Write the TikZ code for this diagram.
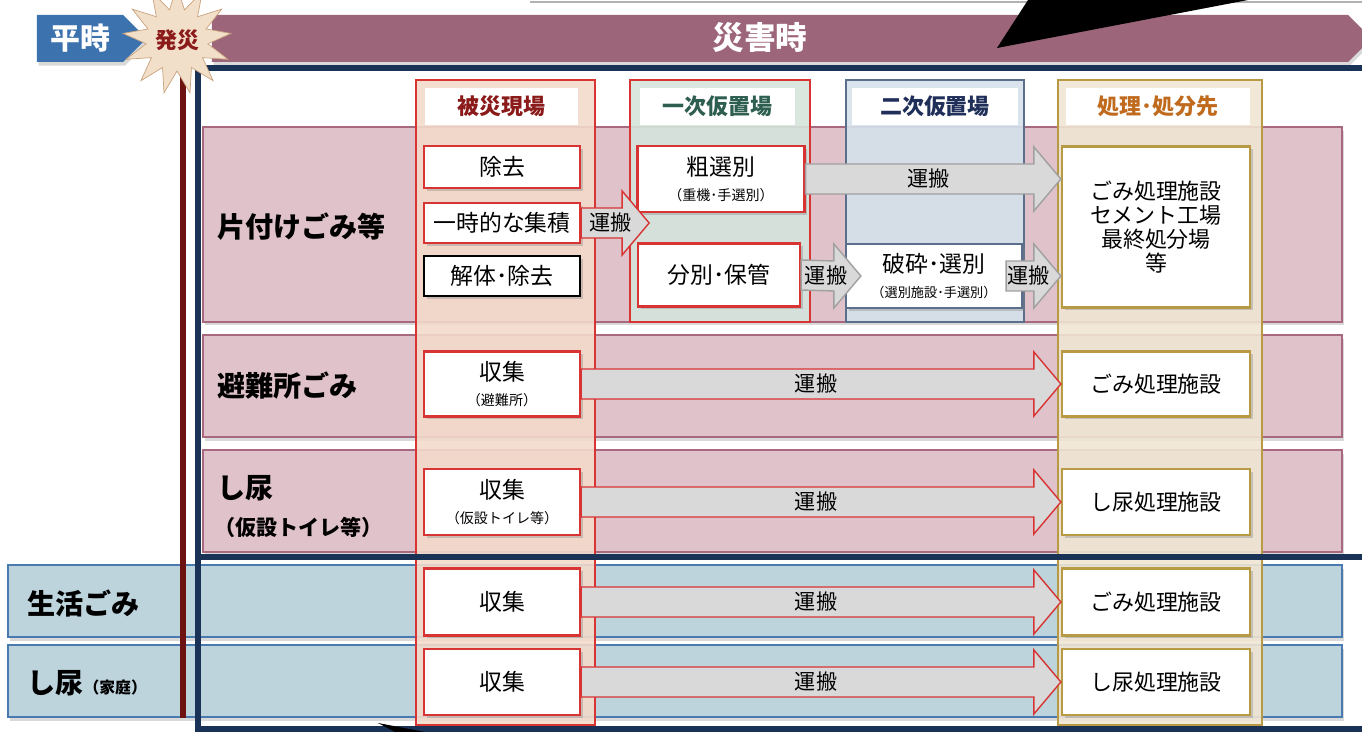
\documentclass[tikz,border=0pt]{standalone}
\usepackage{fontspec}
\setmainfont{Noto Sans CJK JP}
\usetikzlibrary{shapes.geometric,shapes.symbols,shadows,calc}
\definecolor{rowpink}{HTML}{DFC2CA}
\definecolor{rowpinkline}{HTML}{A8687F}
\definecolor{rowblue}{HTML}{BDD4DC}
\definecolor{rowblueline}{HTML}{4A7BB0}
\definecolor{colpeach}{HTML}{F2DACB}
\definecolor{colgreen}{HTML}{D6E4DC}
\definecolor{colblue}{HTML}{D5E1EA}
\definecolor{colbeige}{HTML}{EFE5D3}
\definecolor{boxred}{HTML}{D83434}
\definecolor{nijiline}{HTML}{5B6E8C}
\definecolor{goldline}{HTML}{B89A45}
\definecolor{navyframe}{HTML}{1B3257}
\definecolor{bannerpink}{HTML}{9C6579}
\definecolor{heijiblue}{HTML}{3C72AD}
\definecolor{saired}{HTML}{6E1111}
\definecolor{burstfill}{HTML}{F2DFC9}
\definecolor{burstline}{HTML}{C9A27E}
\definecolor{arrgray}{HTML}{D9D9D9}
\definecolor{arrline}{HTML}{A0A0A0}
\definecolor{hisaitxt}{HTML}{8B1A1A}
\definecolor{ichijitxt}{HTML}{2E5E50}
\definecolor{nijitxt}{HTML}{1F2F5A}
\definecolor{shobuntxt}{HTML}{C06A1E}
\newcommand{\unpan}[4][grayarr]{%
    \draw[#1] ($(#2)+(0,-15)$) -- ($(#3)+(-27,-15)$) -- ($(#3)+(-27,-32)$) -- (#3)
        -- ($(#3)+(-27,32)$) -- ($(#3)+(-27,15)$) -- ($(#2)+(0,15)$) -- cycle;
    \node[hakobu] (#4) at ($(#2)!0.5!(#3)+(-5,0)$) {運搬};}

\begin{document}
\begin{tikzpicture}[x=0.02cm,y=-0.02cm,
        pinkrow/.style={draw=rowpinkline,fill=rowpink,line width=0.8pt,minimum width=22.78cm,inner sep=0,
            drop shadow={opacity=0.3,shadow xshift=1pt,shadow yshift=-2pt}},
        bluerow/.style={draw=rowblueline,fill=rowblue,line width=0.8pt,minimum width=26.68cm,inner sep=0,
            drop shadow={opacity=0.3,shadow xshift=1pt,shadow yshift=-2pt}},
        retsu/.style={draw=#1,line width=1pt,inner sep=0,fill opacity=0.9},
        midashi/.style={fill=white,minimum height=0.74cm,inner sep=0,font=\fontsize{12.5}{14}\selectfont\bfseries},
        hako/.style={draw=boxred,fill=white,line width=1.3pt,inner sep=0,align=center,
            font=\fontsize{13}{15}\selectfont,
            drop shadow={opacity=0.35,shadow xshift=1.5pt,shadow yshift=-1.5pt}},
        grayarr/.style={fill=arrgray,draw=arrline,line width=0.8pt},
        redarr/.style={fill=arrgray,draw=boxred,line width=0.8pt},
        hakobu/.style={font=\fontsize{12}{14}\selectfont,inner sep=0},
        rowlabel/.style={anchor=west,inner sep=0,font=\fontsize{16}{18}\selectfont\bfseries}]
            \useasboundingbox (0,0) rectangle (1362,732);
            \draw[gray!60,line width=0.6pt] (530,2)--(1362,2);
            \node[signal,signal to=east,fill=bannerpink,minimum width=23.2cm,minimum height=0.94cm,inner sep=0,
                drop shadow={opacity=0.3,shadow xshift=1pt,shadow yshift=-2pt}] (saigaiji) at (780,38.5) {};
            \node[text=white,font=\fontsize{18}{20}\selectfont\bfseries] (saigaiji-t) at (760,38) {災害時};
            \fill (997,48)--(1028,0)--(1248,0)--cycle;
            \node[signal,signal to=east,fill=heijiblue,minimum width=2.2cm,minimum height=0.94cm,inner sep=0,
                text=white,font=\fontsize{17}{19}\selectfont\bfseries,
                drop shadow={opacity=0.3,shadow xshift=1pt,shadow yshift=-2pt}] (heiji) at (80,38.5) {平時};
            \node[pinkrow,minimum height=3.9cm] (r1) at (772.5,224.5) {};
            \node[pinkrow,minimum height=2.04cm] (r2) at (772.5,386) {};
            \node[pinkrow,minimum height=2.04cm] (r3) at (772.5,501) {};
            \node[bluerow,minimum height=1.44cm] (r4) at (675,601) {};
            \node[bluerow,minimum height=1.44cm] (r5) at (675,681) {};
            \node[retsu=boxred,fill=colpeach,minimum width=3.58cm,minimum height=12.9cm] (hisai) at (505.5,402.5) {};
            \node[retsu=boxred,fill=colgreen,minimum width=3.6cm,minimum height=4.84cm] (ichijiba) at (720,201) {};
            \node[retsu=nijiline,fill=colblue,minimum width=3.56cm,minimum height=4.84cm] (nijiba) at (935,201) {};
            \node[retsu=goldline,fill=colbeige,minimum width=4.08cm,minimum height=12.9cm] (shobun) at (1160,402.5) {};
            \node[midashi,minimum width=3.06cm,text=hisaitxt] (m1) at (501.5,106.5) {被災現場};
            \node[midashi,minimum width=3.1cm,text=ichijitxt] (m2) at (717.5,106.5) {一次仮置場};
            \node[midashi,minimum width=3.32cm,text=nijitxt] (m3) at (935,106.5) {二次仮置場};
            \node[midashi,minimum width=3.68cm,text=shobuntxt] (m4) at (1158,106.5) {処理･処分先};
            \draw[navyframe,line width=3pt] (198,68) rectangle (1380,729);
            \draw[navyframe,line width=3pt] (198,557)--(1380,557);
            \draw[saired,line width=3.5pt] (183,58)--(183,718);
            \node[star,star points=13,star point ratio=1.75,minimum size=1.8cm,inner sep=0,fill=burstfill,draw=burstline,
                text=hisaitxt,font=\fontsize{12.5}{14}\selectfont\bfseries] (hassai) at (177,40) {発災};
            \fill (378,723)--(425,732)--(395,732)--cycle;
            \node[rowlabel] (l1) at (217,227) {片付けごみ等};
            \node[rowlabel] (l2) at (217,386) {避難所ごみ};
            \node[rowlabel] (l3) at (217,488) {し尿};
            \node[rowlabel,font=\fontsize{12}{14}\selectfont\bfseries] (l3b) at (214,527) {（仮設トイレ等）};
            \node[rowlabel] (l4) at (27,603) {生活ごみ};
            \node[rowlabel] (l5) at (27,683) {し尿{\fontsize{9}{10}\selectfont（家庭）}};
            \node[hako,minimum width=3.12cm,minimum height=0.84cm] (jokyo) at (502,167) {除去};
            \node[hako,minimum width=3.12cm,minimum height=0.8cm] (ichiji) at (502,223) {一時的な集積};
            \node[hako,draw=black,minimum width=3.12cm,minimum height=0.8cm] (kaitai) at (502,276) {解体･除去};
            \node[hako,minimum width=3.12cm,minimum height=1.3cm] (shu1) at (502,384) {収集\\[-1pt]{\fontsize{8}{9}\selectfont（避難所）}};
            \node[hako,minimum width=3.12cm,minimum height=1.32cm] (shu2) at (502,502) {収集\\[-1pt]{\fontsize{8}{9}\selectfont（仮設トイレ等）}};
            \node[hako,minimum width=3.12cm,minimum height=1.34cm] (shu3) at (502,602) {収集};
            \node[hako,minimum width=3.12cm,minimum height=1.32cm] (shu4) at (502,682) {収集};
            \node[hako,minimum width=3.34cm,minimum height=1.32cm] (sosen) at (721,179) {粗選別\\[-1pt]{\fontsize{8}{9}\selectfont（重機･手選別）}};
            \node[hako,minimum width=3.24cm,minimum height=1.26cm] (bunbetsu) at (719,275) {分別･保管};
            \node[hako,draw=nijiline,minimum width=3.52cm,minimum height=1.28cm] (hasai) at (934,276) {破砕･選別\\[-1pt]{\fontsize{7.5}{9}\selectfont（選別施設･手選別）}};
            \node[hako,draw=goldline,minimum width=3.76cm,minimum height=3.22cm,font=\fontsize{12.5}{13.6}\selectfont] (shori0) at (1156,227) {ごみ処理施設\\セメント工場\\最終処分場\\等};
            \node[hako,draw=goldline,minimum width=3.76cm,minimum height=1.3cm,font=\fontsize{12.5}{14}\selectfont] (shori1) at (1156,384) {ごみ処理施設};
            \node[hako,draw=goldline,minimum width=3.76cm,minimum height=1.32cm,font=\fontsize{12.5}{14}\selectfont] (shori2) at (1156,502) {し尿処理施設};
            \node[hako,draw=goldline,minimum width=3.76cm,minimum height=1.34cm,font=\fontsize{12.5}{14}\selectfont] (shori3) at (1156,602) {ごみ処理施設};
            \node[hako,draw=goldline,minimum width=3.76cm,minimum height=1.32cm,font=\fontsize{12.5}{14}\selectfont] (shori4) at (1156,682) {し尿処理施設};
            \coordinate (ichiji-e) at ($(ichiji.east -| ichijiba.west)+(20,0)$);
            \coordinate (hasai-w) at ($(hasai.west)+(16,0)$);
            \coordinate (hasai-e) at ($(hasai.east)+(-17,0)$);
            \unpan[redarr]{ichiji.east}{ichiji-e}{u1}
            \unpan{sosen.east}{sosen.east -| shori0.west}{u2}
            \unpan{bunbetsu.east}{hasai-w}{u3}
            \unpan{hasai-e}{shori0.west |- hasai-e}{u4}
            \foreach \i in {1,...,4}{
                \unpan[redarr]{shu\i.east}{shori\i.west}{ur\i}
            }
\end{tikzpicture}
\end{document}
